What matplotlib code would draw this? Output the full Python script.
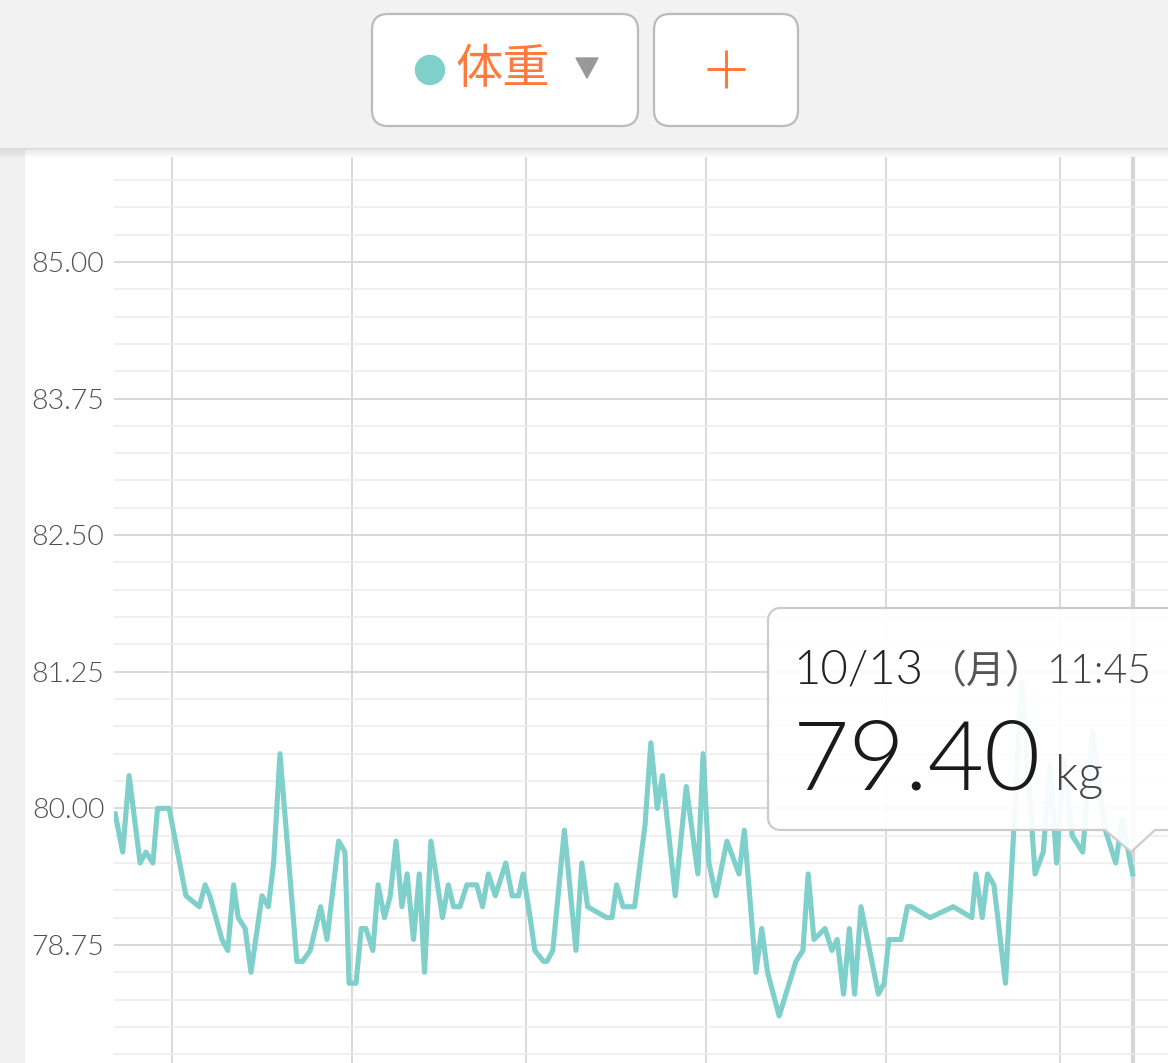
import numpy as np
import matplotlib
matplotlib.use('Agg')
import matplotlib.pyplot as plt
from matplotlib.patches import FancyBboxPatch, Circle, Polygon, Rectangle

plt.rcParams['font.family'] = ['Lato', 'Noto Sans CJK JP', 'DejaVu Sans']

# --- DADOS (dias desde 1/5, peso em kg) ---
days = [-9.8, -8.5, -7.4, -5.5, -4.5, -3.3, -2.5, -0.5, 2.4, 4.7, 5.7, 6.5, 8.6, 9.6,
        10.6, 11.4, 12.6, 13.6, 15.5, 16.6, 17.5, 18.6, 21.5, 22.5, 23.8, 25.6, 26.7,
        28.7, 29.8, 30.5, 31.7, 32.6, 33.4, 34.6, 35.5, 36.6, 37.6, 38.6, 39.6, 40.5,
        41.6, 42.6, 43.5, 44.6, 46.6, 47.6, 48.5, 49.6, 50.8, 52.5, 53.5, 54.5, 55.7,
        57.5, 58.6, 59.7, 60.5, 61.7, 62.5, 64.0, 64.6, 65.6, 67.6, 69.6, 70.6, 71.6,
        74.9, 75.8, 76.6, 77.7, 79.7, 81.5, 82.5, 83.6, 84.5, 86.7, 88.6, 90.6, 91.5,
        92.5, 93.7, 95.6, 97.7, 98.6, 100.6, 101.6, 102.6, 104.6, 107.5, 108.7, 109.6,
        110.6, 112.5, 113.7, 114.6, 115.7, 116.7, 117.6, 118.7, 121.7, 122.7, 123.5,
        125.6, 126.7, 127.4, 130.6, 134.6, 137.8, 138.5, 139.6, 140.5, 141.6, 143.6,
        146.4, 148.7, 150.1, 151.3, 152.4, 153.6, 155.1, 156.9, 158.6, 160.8, 162.6,
        163.7, 165.5]
weights = [79.95, 79.6, 80.3, 79.5, 79.6, 79.5, 80.0, 80.0, 79.2, 79.1, 79.3, 79.2, 78.8, 78.7,
           79.3, 79.0, 78.9, 78.5, 79.2, 79.1, 79.5, 80.5, 78.6, 78.6, 78.7, 79.1, 78.8,
           79.7, 79.6, 78.4, 78.4, 78.9, 78.9, 78.7, 79.3, 79.0, 79.2, 79.7, 79.1, 79.4,
           78.8, 79.4, 78.5, 79.7, 79.0, 79.3, 79.1, 79.1, 79.3, 79.3, 79.1, 79.4, 79.2,
           79.5, 79.2, 79.2, 79.4, 79.0, 78.7, 78.6, 78.6, 78.7, 79.8, 78.7, 79.5, 79.1,
           79.0, 79.0, 79.3, 79.1, 79.1, 79.85, 80.6, 80.0, 80.3, 79.2, 80.2, 79.4, 80.5,
           79.5, 79.2, 79.7, 79.4, 79.8, 78.5, 78.9, 78.5, 78.1, 78.6, 78.7, 79.4,
           78.8, 78.9, 78.7, 78.8, 78.3, 78.9, 78.3, 79.1, 78.3, 78.4, 78.8,
           78.8, 79.1, 79.1, 79.0, 79.1, 79.0, 79.4, 79.0, 79.4, 79.3, 78.4,
           81.15, 79.4, 79.6, 80.4, 79.5, 80.45, 79.75, 79.6, 80.7, 79.8, 79.5,
           79.9, 79.4]

month_starts = [0, 31, 61, 92, 123, 153]   # 1/5 ... 1/10
cursor_day = 165.5                         # 10/13 11:45
y_major = [78.75, 80.00, 81.25, 82.50, 83.75, 85.00]

TEAL = '#7fcfca'
ORANGE = '#ff7a3c'
FW = 300  # peso "light"

W, H = 1168, 1063
fig = plt.figure(figsize=(W / 100, H / 100), dpi=100)

# --- fundo (cartão branco + faixa cinza) ---
bg = fig.add_axes([0, 0, 1, 1], zorder=0)
bg.set_xlim(0, W)
bg.set_ylim(H, 0)
bg.axis('off')
bg.add_patch(Rectangle((0, 0), W, H, color='white'))
bg.add_patch(Rectangle((0, 148), 24, H - 148, color='#f0f0f0'))

# --- gráfico ---
ax = fig.add_axes([114 / W, 0, (W - 114) / W, (H - 157) / H], zorder=1)
ax.patch.set_alpha(0)
ax.set_xlim(-10, 171.6)
ax.set_ylim(77.67, 85.96)
ax.set_xticks(month_starts)
ax.set_xticklabels([])
ax.set_yticks(y_major)
ax.set_yticklabels(['%.2f' % v for v in y_major])
for lbl in ax.get_yticklabels():
    lbl.set_fontweight(FW)
ax.set_yticks(np.arange(77.75, 86.0, 0.25), minor=True)
ax.grid(axis='y', which='minor', color='#ececec', lw=1.1)
ax.grid(axis='y', which='major', color='#d9d9d9', lw=1.4)
ax.grid(axis='x', which='major', color='#d9d9d9', lw=1.4)
ax.tick_params(which='both', length=0)
ax.tick_params(axis='y', labelsize=20.5, labelcolor='#505050', pad=7)
for s in ax.spines.values():
    s.set_visible(False)
ax.axvline(cursor_day, color='#d6d6d6', lw=3, zorder=1)
ax.plot(days, weights, color=TEAL, lw=3.7, solid_joinstyle='round', zorder=3)

# --- cabeçalho e tooltip ---
ov = fig.add_axes([0, 0, 1, 1], zorder=2)
ov.patch.set_alpha(0)
ov.set_xlim(0, W)
ov.set_ylim(H, 0)
ov.axis('off')

ov.add_patch(Rectangle((0, 0), W, 148, color='#f2f2f2'))
for i in range(10):
    ov.add_patch(Rectangle((0, 148 + i), W, 1, color='#000000', alpha=0.10 * (1 - i / 10), lw=0))

for x0, w in [(372, 266), (654, 144)]:
    ov.add_patch(FancyBboxPatch((x0, 14), w, 112, boxstyle='round,pad=0,rounding_size=16',
                                fc='white', ec='#bbbbbb', lw=1.6))
ov.add_patch(Circle((430, 70), 14.5, color=TEAL))
ov.text(456, 70, '体重', color=ORANGE, fontsize=34, va='center', ha='left',
        family=['Noto Sans CJK JP'])
ov.add_patch(Polygon([(576, 58), (598, 58), (587, 78)], color='#999999'))
ov.plot([707, 745], [69, 69], color=ORANGE, lw=2.2, solid_capstyle='butt')
ov.plot([726, 726], [50, 88], color=ORANGE, lw=2.2, solid_capstyle='butt')

# tooltip com bico
r = 12
t = np.linspace(0, np.pi / 2, 10)
arc_bl = [(780 - r * np.sin(a), 818 + r * np.cos(a)) for a in t]
arc_tl = [(768 + r - r * np.cos(a), 620 - r * np.sin(a)) for a in t]
outline = ([(1190, 608), (1190, 830), (1155, 830), (1131, 852), (1105, 830), (780, 830)]
           + arc_bl + [(768, 620)] + arc_tl)
ov.add_patch(Polygon(outline, closed=True, fc='white', ec='none', alpha=0.92))
ov.add_patch(Polygon(outline, closed=True, fc='none', ec='#cccccc', lw=1.6))

ov.text(793, 683, '10/13', fontsize=34, color='#222222', fontweight=FW)
ov.text(928, 683, '（月）', fontsize=28, color='#555555', family=['Noto Sans CJK JP'])
ov.text(1047, 683, '11:45', fontsize=29.5, color='#444444', fontweight=FW)
ov.text(793, 790, '79.40', fontsize=70, color='#1a1a1a', fontweight=FW)
ov.text(1055, 790, 'kg', fontsize=35, color='#444444', fontweight=FW)

fig.savefig('out.png', dpi=100)
